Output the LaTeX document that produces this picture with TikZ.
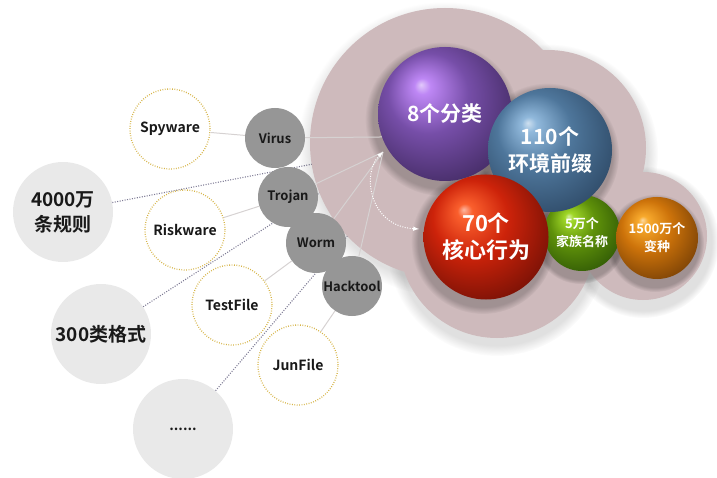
\documentclass[tikz,border=0pt]{standalone}
\usepackage{fontspec}
\setmainfont{Noto Sans CJK SC}[BoldFont={Noto Sans CJK SC Bold}]
\usetikzlibrary{fadings}

\definecolor{blob}{RGB}{206,186,188}
\definecolor{tagfill}{RGB}{150,150,150}
\definecolor{poolfill}{RGB}{233,233,233}
\definecolor{gold}{RGB}{214,180,70}
\definecolor{ink}{RGB}{25,25,25}
\definecolor{linkcol}{RGB}{214,210,210}
\definecolor{dotcol}{RGB}{125,122,148}

% sphere colours: light, mid, dark
\definecolor{purpleA}{RGB}{190,135,245}\definecolor{purpleB}{RGB}{118,78,168}\definecolor{purpleC}{RGB}{60,38,90}
\definecolor{blueA}{RGB}{145,185,220}\definecolor{blueB}{RGB}{78,118,155}\definecolor{blueC}{RGB}{42,68,96}
\definecolor{redA}{RGB}{250,95,45}\definecolor{redB}{RGB}{205,35,10}\definecolor{redC}{RGB}{105,14,5}
\definecolor{greenA}{RGB}{160,215,40}\definecolor{greenB}{RGB}{95,145,10}\definecolor{greenC}{RGB}{42,82,5}
\definecolor{orangeA}{RGB}{248,170,45}\definecolor{orangeB}{RGB}{205,115,10}\definecolor{orangeC}{RGB}{110,58,5}

\newcommand\orbshade[4]{%
  \pgfdeclareradialshading{#1}{\pgfqpoint{-9bp}{11bp}}{%
    color(0bp)=(#2!45!white); color(3bp)=(#2); color(15bp)=(#3);
    color(35bp)=(#4); color(50bp)=(#4)}}
\orbshade{orbpurple}{purpleA}{purpleB}{purpleC}
\orbshade{orbblue}{blueA}{blueB}{blueC}
\orbshade{orbred}{redA}{redB}{redC}
\orbshade{orbgreen}{greenA}{greenB}{greenC}
\orbshade{orborange}{orangeA}{orangeB}{orangeC}

\pgfdeclarelayer{under}
\pgfsetlayers{under,main}

\tikzstyle{halo}=[fill=black, fill opacity=0.22, path fading=circle with fuzzy edge 10 percent]
\tikzstyle{orb}=[circle, inner sep=0pt, text=white, align=center]
\tikzstyle{tag}=[circle, inner sep=0pt, minimum size=60pt, fill=tagfill, text=ink, font=\bfseries\fontsize{13}{15}\selectfont]
\tikzstyle{kind}=[circle, inner sep=0pt, minimum size=80pt, fill=white, draw=gold, line width=1.3pt, dash pattern=on 0.8pt off 1.6pt, text=ink, font=\bfseries\fontsize{14}{16}\selectfont]
\tikzstyle{pool}=[circle, inner sep=0pt, minimum size=100pt, fill=poolfill, text=ink, align=center, font=\bfseries\fontsize{19}{25}\selectfont]
\tikzstyle{link}=[draw=linkcol, line width=1pt]
\tikzstyle{trace}=[draw=dotcol, line width=1.1pt, dash pattern=on 1pt off 1.5pt]
\tikzstyle{roundtrip}=[draw=white, latex-latex, line width=1pt, dash pattern=on 1pt off 1.5pt]

\begin{document}
\begin{tikzpicture}[x=1pt,y=-1pt]
				\useasboundingbox (0,0) rectangle (717,478);

				%Soft shadow under the cloud
				\fill[halo, fill opacity=0.12] (445,149) circle (147pt);
				\fill[halo, fill opacity=0.12] (548,154) circle (110pt);
				\fill[halo, fill opacity=0.12] (643,242) circle (76pt);
				\fill[halo, fill opacity=0.12] (497,246) circle (110pt);

				%The pink cloud
				\fill[blob] (445,143) circle (135pt) (548,148) circle (98pt)
					(643,236) circle (64pt) (497,240) circle (98pt);

				%Shadows of the spheres
				\fill[halo] (442,119) circle (77pt);
				\fill[halo] (580,238) circle (46pt);
				\fill[halo] (547,155) circle (72pt);
				\fill[halo] (483,242) circle (72pt);
				\fill[halo] (655,243) circle (49pt);

				%The spheres
				\draw (445,114) node[orb, minimum size=134pt, shading=orbpurple, font=\bfseries\fontsize{21}{26}\selectfont] (purple) {8个分类};
				\draw (582,233) node[orb, minimum size=76pt, shading=orbgreen, font=\bfseries\fontsize{13}{18}\selectfont] (green) {5万个\\家族名称};
				\draw (550,150) node[orb, minimum size=124pt, shading=orbblue, font=\bfseries\fontsize{21}{27}\selectfont] (blue) {110个\\环境前缀};
				\draw (486,237) node[orb, minimum size=125pt, shading=orbred, font=\bfseries\fontsize{22}{27}\selectfont] (red) {70个\\核心行为};
				\draw (657,238) node[orb, minimum size=82pt, shading=orborange, font=\bfseries\fontsize{13}{18}\selectfont] (orange) {1500万个\\变种};

				%The malware types
				\draw (275,138) node[tag] (virus) {Virus};
				\draw (288,197) node[tag] (trojan) {Trojan};
				\draw (316,243) node[tag] (worm) {Worm};
				\draw (352,286) node[tag] (hack) {Hacktool};

				%The file kinds
				\draw (170,129) node[kind] (spy) {Spyware};
				\draw (185,230) node[kind] (risk) {Riskware};
				\draw (232,305) node[kind] (test) {TestFile};
				\draw (298,365) node[kind] (jun) {JunFile};

				%The sources
				\draw (63,212) node[pool] (rules) {4000万\\条规则};
				\draw (101,334) node[pool] (formats) {300类格式};
				\draw (183,429) node[pool, font=\bfseries\fontsize{14}{16}\selectfont] (more) {......};

				\coordinate (hub) at (383,152);
				\coordinate (landing) at (419,229);
				\coordinate (sink) at (386,150);
				\coordinate (sink2) at (378,200);

				\begin{pgfonlayer}{under}
				\draw[trace] (rules) -- (sink);
				\draw[trace] (formats) -- (sink);
				\draw[trace] (more) -- (sink2);
				\end{pgfonlayer}

				\draw[link] (spy) -- (virus) -- (purple.200);
				\draw[link] (risk) -- (trojan) -- (hub);
				\draw[link] (test) -- (worm) -- (hub);
				\draw[link] (jun) -- (hack) -- (hub);

				\draw[roundtrip] (hub) .. controls (362,172) and (368,226) .. (landing);
			\end{tikzpicture}
\end{document}
